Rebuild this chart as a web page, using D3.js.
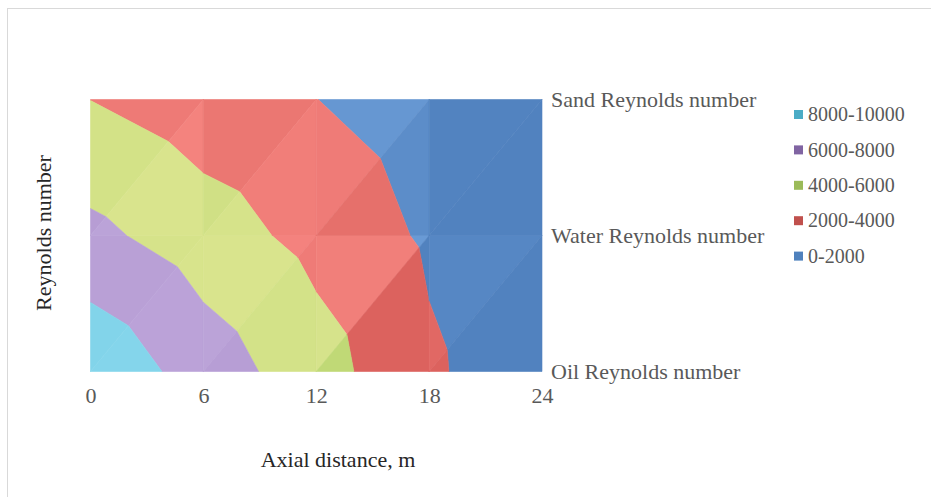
<!DOCTYPE html>
<html>
<head>
<meta charset="utf-8">
<script src="https://cdn.jsdelivr.net/npm/d3@7"></script>
<style>
  body { margin: 0; background: #fff; }
  text { font-family: "Liberation Serif", "Times New Roman", serif; }
</style>
</head>
<body>
<svg id="chart" width="931" height="497"></svg>
<script>
// grid of the surface: axial distance (m) x fluid
var distances = [0, 6, 12, 18, 24]
var fluids = ["Oil Reynolds number", "Water Reynolds number", "Sand Reynolds number"]
var oilRe = [9550, 7100, 4850, 2300, 590]
var waterRe = [6500, 4940, 3390, 1720, 430]
var sandRe = [3980, 2880, 2020, 940, 300]

// contour bands
var bandEdges = [0, 2000, 4000, 6000, 8000, 10000]
var bandNames = ["0-2000", "2000-4000", "4000-6000", "6000-8000", "8000-10000"]
var legendColors = ["#4F81BD", "#C0504D", "#9BBB59", "#8064A2", "#4BACC6"]
// lit surface tones (shadow side / lit side)
var shadeDark = ["#5182bf", "#dc625e", "#c0d976", "#a98bc8", "#6cc8e2"]
var shadeLight = ["#6d9ed9", "#f5847f", "#dae58e", "#bca4d9", "#86d6ec"]

var grid = [oilRe, waterRe, sandRe]

var svg = d3.select("#chart")

// outer chart border
svg.append("rect")
  .attr("x", 7.5).attr("y", 8.5)
  .attr("width", 1000).attr("height", 600)
  .attr("fill", "none").attr("stroke", "#d9d9d9")

var x = d3.scaleLinear().domain([0, 24]).range([90.5, 542])
var y = d3.scalePoint().domain(fluids).range([371.5, 99.5])

// clip a polygon to the half where fn(p) >= 0
function clip(poly, fn) {
  var out = []
  for (var i = 0; i < poly.length; i++) {
    var a = poly[i], b = poly[(i + 1) % poly.length]
    var fa = fn(a), fb = fn(b)
    if (fa >= 0) out.push(a)
    if ((fa >= 0) !== (fb >= 0)) {
      var t = fa / (fa - fb)
      out.push({x: a.x + (b.x - a.x) * t, y: a.y + (b.y - a.y) * t, z: a.z + (b.z - a.z) * t})
    }
  }
  return out
}

function node(c, r) {
  return {x: x(distances[c]), y: y(fluids[r]), z: grid[r][c]}
}

// build the triangles (each cell split on its bottom-left / top-right diagonal)
var tris = []
for (var r = 0; r < fluids.length - 1; r++) {
  for (var c = 0; c < distances.length - 1; c++) {
    var tl = node(c, r + 1), tr = node(c + 1, r + 1)
    var bl = node(c, r), br = node(c + 1, r)
    tris.push([tl, tr, bl])
    tris.push([bl, br, tr])
  }
}

// lambert lighting on each facet, light low from the upper right
var k = 0.1
var elev = 20 * Math.PI / 180, azim = 45 * Math.PI / 180
var L = [Math.cos(elev) * Math.cos(azim), -Math.cos(elev) * Math.sin(azim), Math.sin(elev)]
tris.forEach(function (t) {
  var a = t[0], b = t[1], c = t[2]
  var u = [b.x - a.x, b.y - a.y, (b.z - a.z) * k]
  var v = [c.x - a.x, c.y - a.y, (c.z - a.z) * k]
  var n = [u[1] * v[2] - u[2] * v[1], u[2] * v[0] - u[0] * v[2], u[0] * v[1] - u[1] * v[0]]
  if (n[2] < 0) n = n.map(function (d) { return -d })
  var len = Math.sqrt(n[0] * n[0] + n[1] * n[1] + n[2] * n[2])
  t.light = (n[0] * L[0] + n[1] * L[1] + n[2] * L[2]) / len
})
var shade = d3.scaleLinear().domain([0.85, 1]).range([0, 1]).clamp(true)

var line = d3.line().x(function (p) { return p.x }).y(function (p) { return p.y })

var surf = svg.append("g").attr("class", "surface")
tris.forEach(function (t) {
  for (var b = 0; b < bandNames.length; b++) {
    var lo = bandEdges[b], hi = bandEdges[b + 1]
    var poly = clip(t, function (p) { return p.z - lo })
    poly = clip(poly, function (p) { return hi - p.z })
    if (poly.length < 3) continue
    var col = d3.interpolateRgb(shadeDark[b], shadeLight[b])(shade(t.light))
    surf.append("path")
      .attr("d", line(poly) + "Z")
      .attr("fill", col)
      .attr("stroke", col)
      .attr("stroke-width", 0.6)
      .attr("stroke-linejoin", "round")
  }
})

// bottom axis
var xAxis = svg.append("g")
  .attr("transform", "translate(0," + y(fluids[0]) + ")")
  .call(d3.axisBottom(x).tickValues(distances).tickSize(0).tickPadding(16))
xAxis.select(".domain").remove()
xAxis.selectAll("text")
  .attr("fill", "#595959")
  .style("font-size", "22px")
  .style("font-family", "Liberation Serif, serif")

// series axis on the right
var yAxis = svg.append("g")
  .attr("transform", "translate(" + x(24) + ",0)")
  .call(d3.axisRight(y).tickSize(0).tickPadding(9))
yAxis.select(".domain").remove()
yAxis.selectAll("text")
  .attr("fill", "#595959")
  .style("font-size", "22px")
  .style("font-family", "Liberation Serif, serif")

// axis titles
svg.append("text")
  .attr("x", 338).attr("y", 467)
  .attr("text-anchor", "middle")
  .attr("fill", "#262626")
  .style("font-size", "22px")
  .text("Axial distance, m")

svg.append("text")
  .attr("transform", "translate(43,233) rotate(-90)")
  .attr("text-anchor", "middle")
  .attr("dy", "0.35em")
  .attr("fill", "#262626")
  .style("font-size", "22px")
  .text("Reynolds number")

// legend, highest band first
var legend = svg.append("g").attr("transform", "translate(794,114.5)")
var order = d3.range(bandNames.length).reverse()
order.forEach(function (b, i) {
  var g = legend.append("g").attr("transform", "translate(0," + (i * 35.4) + ")")
  g.append("rect")
    .attr("x", 0).attr("y", -4.5)
    .attr("width", 9).attr("height", 9)
    .attr("fill", legendColors[b])
  g.append("text")
    .attr("x", 14).attr("y", 0)
    .attr("dy", "0.33em")
    .attr("fill", "#595959")
    .style("font-size", "20px")
    .text(bandNames[b])
})
</script>
</body>
</html>
